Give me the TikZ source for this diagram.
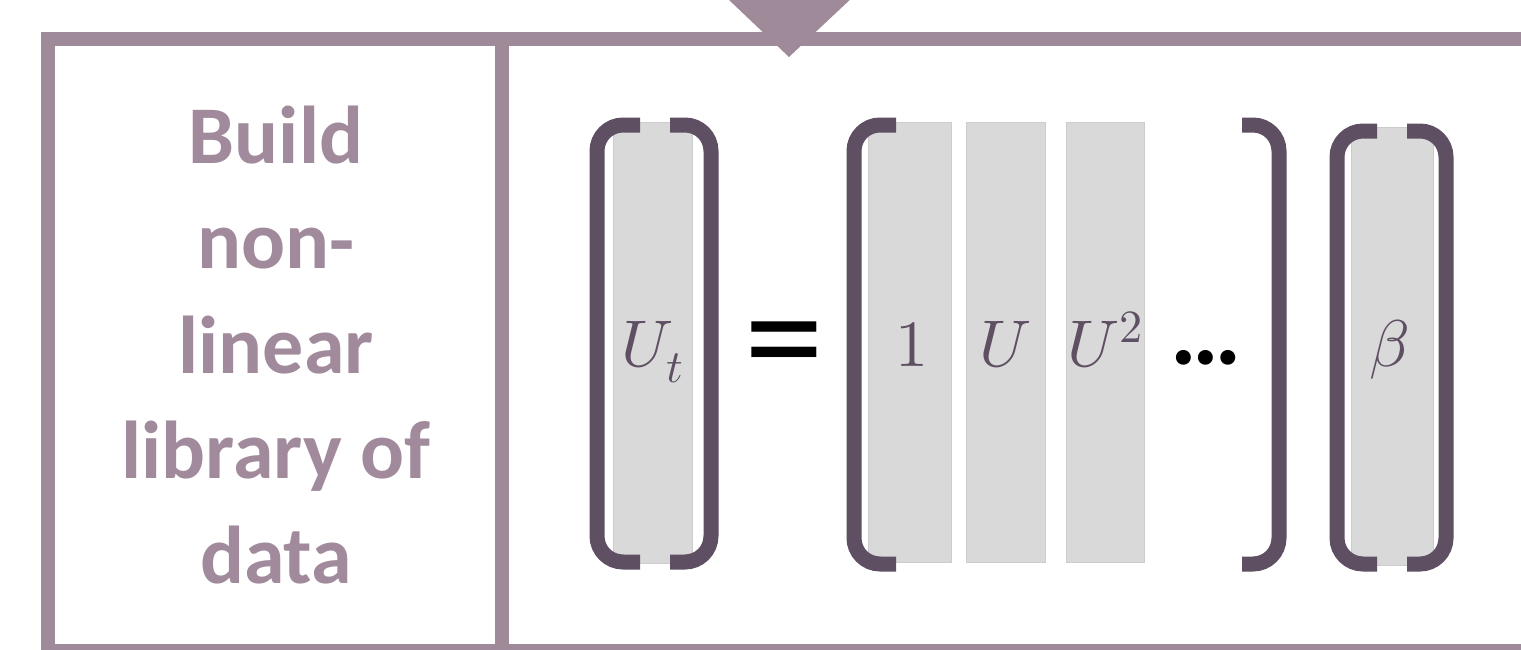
\documentclass[tikz,border=0pt]{standalone}
\usepackage{fontspec}
\usepackage{unicode-math}
\setmainfont{Carlito}
\setmathfont{Latin Modern Math}
\definecolor{framec}{HTML}{9F8A99}
\definecolor{brk}{HTML}{5E4F62}
\definecolor{colc}{HTML}{D9D9D9}
\definecolor{colline}{HTML}{CCCCCC}
\definecolor{txtc}{HTML}{A08A9C}
\tikzset{
  lbl/.style={text=txtc, font=\fontsize{82}{105}\selectfont\bfseries, anchor=base, inner sep=0pt},
  colbox/.style={fill=colc, draw=colline, line width=1pt, inner sep=0pt},
  mtxt/.style={text=brk, font=\fontsize{66}{70}\selectfont, inner sep=0pt, anchor=base},
  brkt/.style={draw=brk, line width=15pt, rounded corners=26pt},
  framel/.style={draw=framec, line width=14pt},
}
\begin{document}
\begin{tikzpicture}[x=1pt,y=-1pt]
\useasboundingbox (0,0) rectangle (1521,649);
\clip (0,0) rectangle (1521,649);
% frame
\draw[framel] (1600,39) -- (48,39) -- (48,651) -- (1600,651);
\draw[framel] (502,39) -- (502,700);
% incoming arrow head
\fill[framec] (708,-20) -- (871,-20) -- (789,57) -- cycle;
% label
\node[lbl] (l1) at (276,163) {Build};
\node[lbl] (l2) at (276,268) {non-};
\node[lbl] (l3) at (276,373) {linear};
\node[lbl] (l4) at (276,478) {library of};
\node[lbl] (l5) at (276,583) {data};
% columns
\node[colbox, minimum width=79pt, minimum height=441pt] (ut) at (652.5,342.5) {};
\node[colbox, minimum width=83pt, minimum height=440pt] (c1) at (909.5,342) {};
\node[colbox, minimum width=79pt, minimum height=440pt] (c2) at (1005.5,342) {};
\node[colbox, minimum width=78pt, minimum height=440pt] (c3) at (1105,342) {};
\node[colbox, minimum width=82pt, minimum height=438pt] (beta) at (1392,346) {};
\node[mtxt] (tut) at (ut.center |- 0,366) {$U_t$};
\node[mtxt] (t1) at (912,366) {$1$};
\node[mtxt] (t2) at (c2.center |- 0,366) {$U$};
\node[mtxt] (t3) at (c3.center |- 0,366) {$U^2$};
\node[mtxt] (tb) at (1389,366) {$\beta$};
% brackets
\draw[brkt] (640,125) -- (597,125) -- (597,562) -- (640,562);
\draw[brkt] (670,125) -- (711,125) -- (711,562) -- (670,562);
\draw[brkt] (896,125) -- (854,125) -- (854,564) -- (896,564);
\draw[brkt] (1242,125) -- (1279,125) -- (1279,564) -- (1242,564);
\draw[brkt] (1377,131) -- (1337,131) -- (1337,564) -- (1377,564);
\draw[brkt] (1407,131) -- (1446,131) -- (1446,564) -- (1407,564);
% equals and dots
\node[font=\fontsize{160}{160}\selectfont, inner sep=0pt] (eq) at (784,356) {=};
\node[font=\fontsize{100}{100}\selectfont\bfseries, inner sep=0pt, anchor=base] (dots) at (1206,364) {…};
\end{tikzpicture}
\end{document}
